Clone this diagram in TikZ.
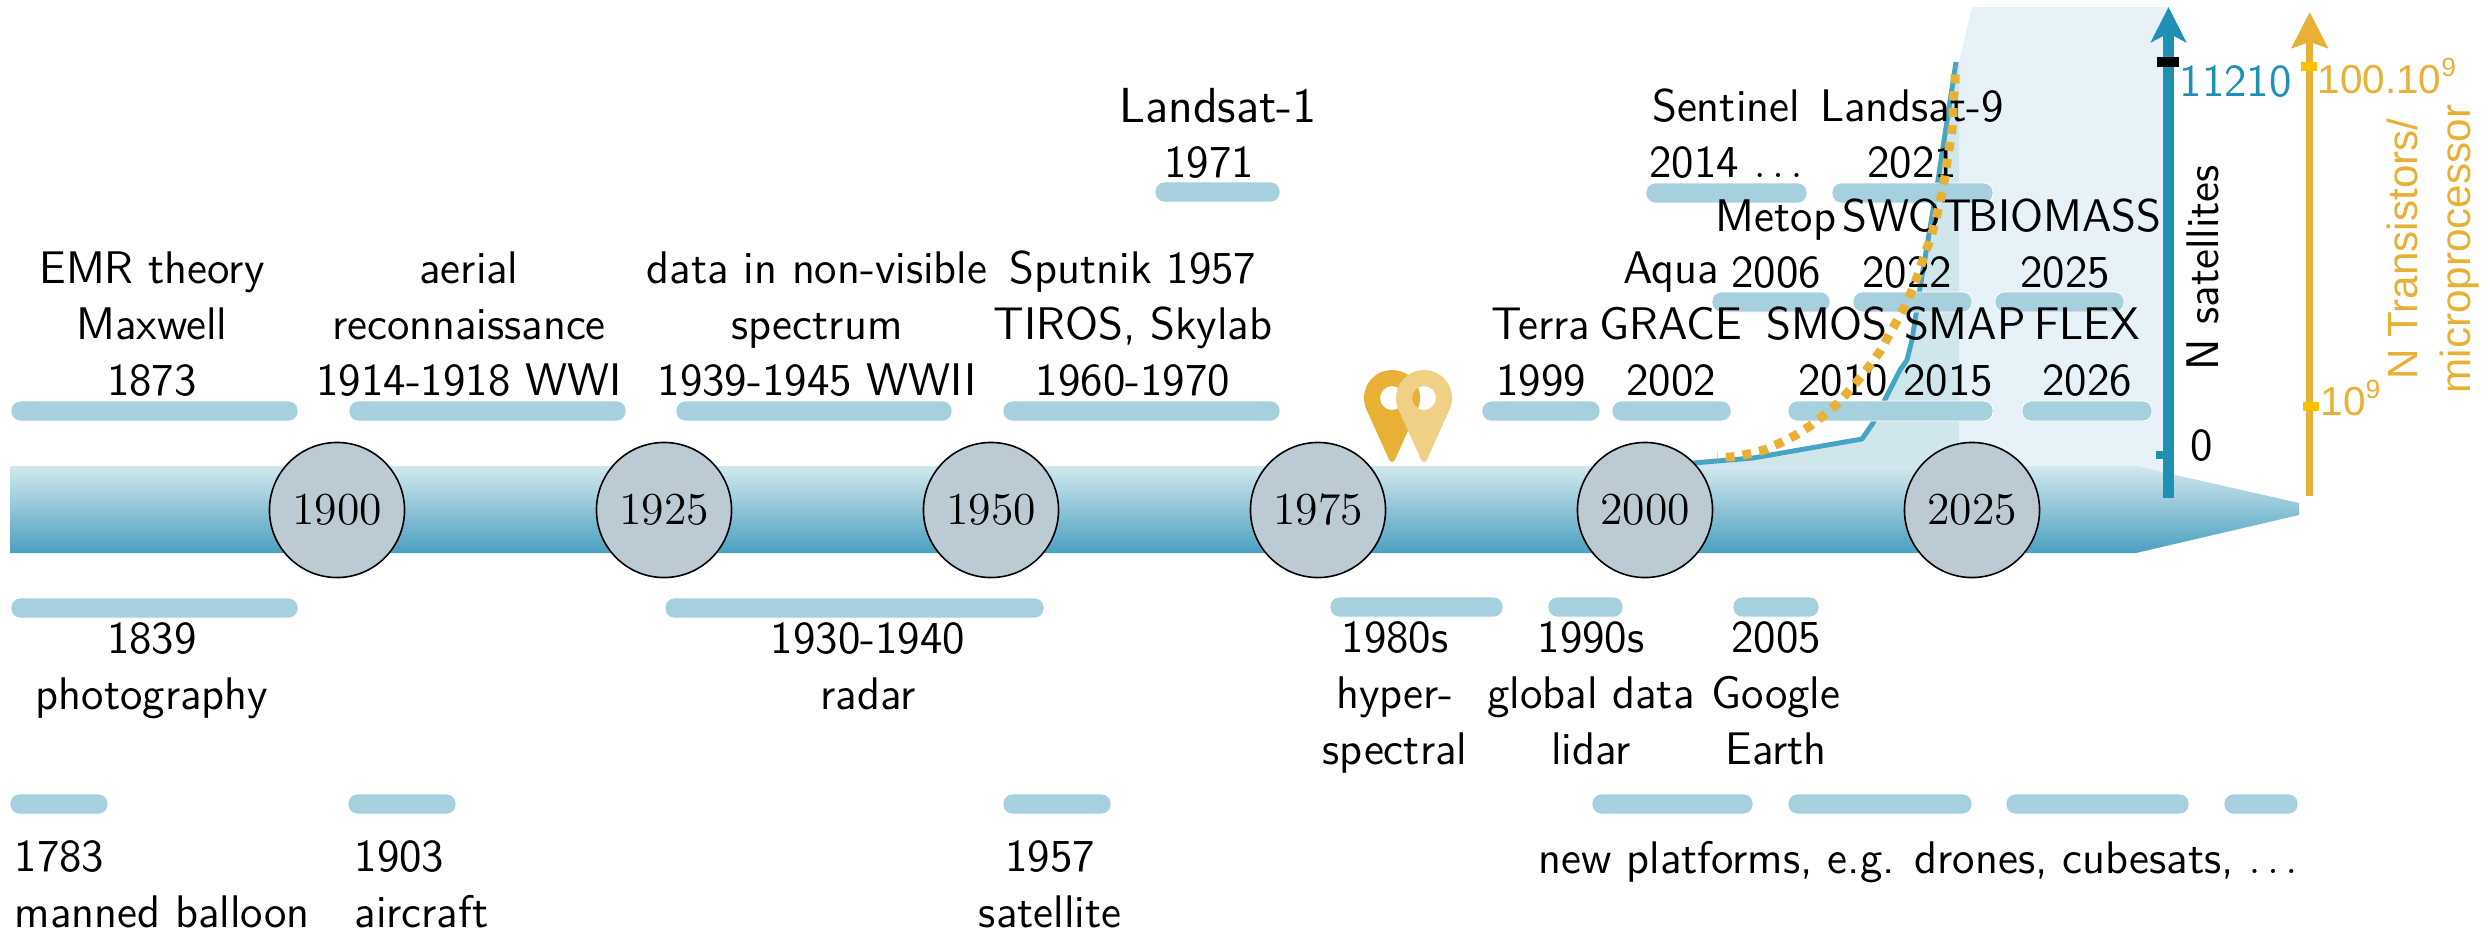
\documentclass[tikz,border=0pt]{standalone}
\usepackage{fontspec}
\newfontfamily\helv{Liberation Sans}
\usetikzlibrary{arrows.meta}
\definecolor{barTop}{HTML}{D2E8EE}
\definecolor{barBot}{HTML}{4AA0C0}
\definecolor{pillC}{HTML}{A6D0DE}
\definecolor{bgLight}{HTML}{E6F2F7}
\definecolor{bgDark}{HTML}{D0E6ED}
\definecolor{curveB}{HTML}{46A4C4}
\definecolor{axisB}{HTML}{1F8FB3}
\definecolor{gold}{HTML}{E8B035}
\definecolor{goldL}{HTML}{F0D084}
\definecolor{yel}{HTML}{FFC000}
\definecolor{circ}{HTML}{BCCBD3}
\tikzset{
  pillbar/.style={fill=pillC,draw=white,line width=0.25pt,rounded corners=0.09cm},
  lbl/.style={inner sep=0pt,anchor=base,align=center,font=\sffamily\fontsize{13}{15.8}\selectfont},
  yearc/.style={circle,draw=black,fill=circ,line width=0.45pt,minimum size=1.35cm,inner sep=0pt,font=\rmfamily\fontsize{13}{15}\selectfont},
  hlbl/.style={inner sep=0pt,anchor=base,align=center,text=gold,font=\helv\fontsize{11.5}{14}\selectfont},
}
\newcommand{\pill}[3]{\path[pillbar] (#1,{#3-10}) rectangle (#2,{#3+10});}
\newcommand{\tick}[5]{\fill[#1] (#2,#4) rectangle (#3,#5);}
\newcommand{\supnine}{\raisebox{0.42em}{\fontsize{7.5}{9}\selectfont 9}}
\newcommand{\mappin}[2]{\begin{scope}[shift={(#1,398)},x=1cm,y=1cm]
  \fill[#2,even odd rule] (205:0.28) arc[start angle=205,end angle=-25,radius=0.28cm] -- (0.03,-0.615) .. controls (0.012,-0.645) and (-0.012,-0.645) .. (-0.03,-0.615) -- cycle (0,0) circle[radius=0.12cm];
\end{scope}}
\begin{document}
\begin{tikzpicture}[x=0.01cm,y=-0.01cm]
\useasboundingbox (0,0) rectangle (2481,933);
% background areas
\fill[bgLight] (1972,7) -- (2168,7) -- (2168,480) -- (2136,466) -- (1959,466) -- (1959,62) -- cycle;
\fill[bgDark] (1693,466) -- (1693,463) -- (1753,458) -- (1862,439) -- (1873,423) -- (1900,370) -- (1907,360) -- (1912,340) -- (1920,288) -- (1933,210) -- (1938,180) -- (1956,62) -- (1959,62) -- (1959,466) -- cycle;
% timeline
\shade[top color=barTop,bottom color=barBot] (10,466) -- (2136,466) -- (2299,503) -- (2299,515) -- (2136,553) -- (10,553) -- cycle;
% satellites curve
\draw[curveB,line width=1.4pt,line join=round] (1693,463) -- (1753,458) -- (1862,439) -- (1873,423) -- (1900,370) -- (1907,360) -- (1912,340) -- (1920,288) -- (1933,210) -- (1938,180) -- (1956,62);
% pills
\pill{11}{298}{411}\pill{349}{626}{411}\pill{676}{952}{411}\pill{1003}{1280}{411}
\pill{1482}{1600}{411}\pill{1612}{1731}{411}\pill{1788}{1993}{411}\pill{2022}{2152}{411}
\pill{1712}{1830}{302}\pill{1853}{1972}{302}\pill{1995}{2124}{302}
\pill{1646}{1807}{193}\pill{1832}{1993}{193}\pill{1155}{1280}{192}
\pill{11}{298}{608}\pill{665}{1044}{608}\pill{1330}{1503}{607}\pill{1548}{1623}{607}\pill{1733}{1819}{607}
\pill{10}{108}{804}\pill{348}{456}{804}\pill{1003}{1111}{804}
\pill{1592}{1753}{804}\pill{1788}{1972}{804}\pill{2006}{2189}{804}\pill{2224}{2298}{804}
% year circles
\node[yearc] (y1900) at (337,510) {1900};
\node[yearc] (y1925) at (664,510) {1925};
\node[yearc] (y1950) at (991,510) {1950};
\node[yearc] (y1975) at (1318,510) {1975};
\node[yearc] (y2000) at (1645,510) {2000};
\node[yearc] (y2025) at (1972,510) {2025};
% pins
\mappin{1392}{gold}
\mappin{1424}{goldL}
% top labels
\node[lbl] (t1) at (152,395) {EMR theory\\Maxwell\\1873};
\node[lbl] (t2) at (469,395) {aerial\\reconnaissance\\1914-1918 WWI};
\node[lbl] (t3) at (817,395) {data in non-visible\\spectrum\\1939-1945 WWII};
\node[lbl] (t4) at (1133,395) {Sputnik 1957\\TIROS, Skylab\\1960-1970};
\node[lbl] (t5) at (1541,395) {Terra\\1999};
\node[lbl] (t6) at (1671,395) {Aqua\\GRACE\\2002};
\node[lbl] (t7a) at (1827,339) {SMOS};
\node[lbl] (t7b) at (1843,395) {2010};
\node[lbl] (t8a) at (1965,339) {SMAP};
\node[lbl] (t8b) at (1948,395) {2015};
\node[lbl] (t9) at (2087,395) {FLEX\\2026};
\node[lbl] (t10) at (1776,287) {Metop\\2006};
\node[lbl] (t11) at (1907,287) {SWOT\\2022};
\node[lbl] (t12) at (2065,287) {BIOMASS\\2025};
\node[lbl] (t13) at (1726,177) {Sentinel\\2014 $\ldots$};
\node[lbl] (t14) at (1912,177) {Landsat-9\\2021};
\node[lbl,font=\sffamily\fontsize{14}{15.8}\selectfont] (t15a) at (1218,122) {Landsat-1};
\node[lbl] (t15b) at (1209,177) {1971};
% lower labels
\node[lbl] (b1) at (152,709) {1839\\photography};
\node[lbl] (b2) at (868,709) {1930-1940\\radar};
\node[lbl] (b3) at (1395,764) {1980s\\hyper-\\spectral};
\node[lbl] (b4) at (1591,764) {1990s\\global data\\lidar};
\node[lbl] (b5) at (1776,764) {2005\\Google\\Earth};
\node[lbl,align=left,anchor=base west] (c1) at (14,927) {1783\\manned balloon};
\node[lbl,align=left,anchor=base west] (c2) at (354,927) {1903\\aircraft};
\node[lbl] (c3) at (1050,927) {1957\\satellite};
\node[lbl,anchor=base east] (c4) at (2298,873) {new platforms, e.g. drones, cubesats, $\ldots$};
% axes
\coordinate (ab0) at (2168.5,498);
\coordinate (ab1) at (2168.5,7);
\coordinate (ag0) at (2309.7,496);
\coordinate (ag1) at (2309.7,12);
\draw[axisB,line width=3.13pt,-{Stealth[length=10pt,width=10pt,inset=2.56pt]}] (ab0) -- (ab1);
\draw[gold,line width=2.13pt,-{Stealth[length=10.2pt,width=10.2pt,inset=1.7pt]}] (ag0) -- (ag1);
\tick{black}{2157}{2179}{57}{67}
\tick{axisB}{2156}{2163}{451}{459}
\tick{yel}{2301}{2317}{62}{71}
\tick{yel}{2303}{2319}{402}{411}
\node[lbl,text=axisB,anchor=base west] (l1) at (2179,96) {11210};
\node[lbl] (l2) at (2202,460) {0};
\node[lbl,rotate=90] (l3) at (2218,268) {N satellites};
\node[hlbl,anchor=base west] (l4) at (2317,93) {100.10\supnine};
\node[hlbl,anchor=base west] (l5) at (2320,415) {10\supnine};
\node[hlbl,rotate=90,font=\helv\fontsize{12}{14.8}\selectfont] (l6) at (2470,249) {N Transistors/\\microprocessor};
% transistor curve
\draw[gold,line width=2.55pt,dash pattern=on 2.55pt off 2.28pt,dash phase=2.36pt,line join=round]
 (1717,457) -- (1731,457) -- (1748,454) -- (1764,450) -- (1780,443) -- (1796,435) -- (1810,426) -- (1824,415) -- (1837,404) -- (1849,391) -- (1860,378) -- (1871,364) -- (1881,350) -- (1889,335) -- (1898,319) -- (1906,304) -- (1913,288) -- (1919,272) -- (1924,256) -- (1930,240) -- (1935,223) -- (1939,206) -- (1943,189) -- (1948,155) -- (1951,138) -- (1953,120) -- (1953,102) -- (1955,85) -- (1955,66);
\end{tikzpicture}
\end{document}
